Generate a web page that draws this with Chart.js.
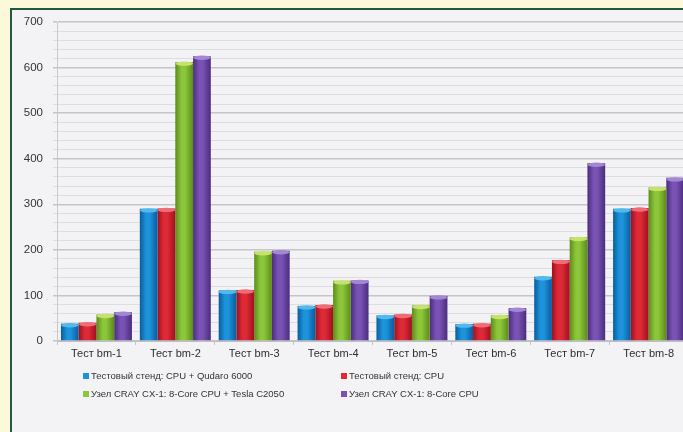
<!DOCTYPE html>
<html>
<head>
<meta charset="utf-8">
<script src="https://cdn.jsdelivr.net/npm/chart.js@4/dist/chart.umd.min.js"></script>
<style>
  html, body { margin: 0; padding: 0; width: 683px; height: 432px; overflow: hidden; background: #fcf8da; }
  #frame { position: absolute; left: 10px; top: 8px; width: 700px; height: 440px;
           border-left: 2px solid #1f5a3d; border-top: 2px solid #1f5a3d; background: #f3f3f6; }
  #chart { position: absolute; left: 0; top: 0; }
  .lg { position: absolute; font: 9.5px "Liberation Sans", Arial, sans-serif; color: #333;
        white-space: nowrap; line-height: 12px; }
  .lg i { display: inline-block; width: 6px; height: 6px; margin-right: 2px; vertical-align: 0px; }
</style>
</head>
<body>
<div id="frame">
  <canvas id="chart" width="690" height="422"></canvas>
  <div id="legend"></div>
</div>
<script>
// Benchmark categories
const categories = ['Тест bm-1', 'Тест bm-2', 'Тест bm-3', 'Тест bm-4',
                    'Тест bm-5', 'Тест bm-6', 'Тест bm-7', 'Тест bm-8'];

// Series names
const seriesNames = [
  'Тестовый стенд: CPU + Qudaro 6000',
  'Тестовый стенд: CPU',
  'Узел CRAY CX-1: 8-Core CPU + Tesla C2050',
  'Узел CRAY CX-1: 8-Core CPU'
];

// Series values
const standQuadro = [38, 290, 111, 77, 56, 37, 141, 290];
const standCpu    = [40, 291, 112, 79, 58, 38, 177, 292];
const crayTesla   = [58, 612, 196, 132, 78, 56, 227, 337];
const crayCpu     = [63, 625, 198, 133, 99, 72, 390, 358];

// Axis range
const yMin = 0, yMax = 700, yStep = 20, yLabelStep = 100;

// Colours: [edge, centre, cap]
const palette = [
  ['#0a5c9c', '#1d93dc', '#52b9ee'],
  ['#a0101e', '#de2a37', '#ef6c76'],
  ['#5c8c1a', '#8cc63a', '#c6e26c'],
  ['#4b2c7e', '#7853b4', '#a386d4']
];

const CAT_PCT = 0.9, BAR_PCT = 1.0;
const seriesData = [standQuadro, standCpu, crayTesla, crayCpu];

function cylinderFill(d) {
  return function (ctx) {
    const chart = ctx.chart;
    const xs = chart.scales && chart.scales.x;
    const [edge, mid] = palette[d];
    if (!xs || !xs.width || ctx.dataIndex == null) return mid;
    const cat = xs.width / categories.length;
    const slot = cat * CAT_PCT / seriesData.length;
    const w = slot * BAR_PCT;
    const cx = xs.getPixelForValue(ctx.dataIndex) - cat * CAT_PCT / 2 + slot * (d + 0.5);
    const g = chart.ctx.createLinearGradient(cx - w / 2, 0, cx + w / 2, 0);
    g.addColorStop(0, edge);
    g.addColorStop(0.35, mid);
    g.addColorStop(0.55, mid);
    g.addColorStop(1, edge);
    return g;
  };
}

// Light elliptical caps on top of each bar
const capsPlugin = {
  id: 'caps',
  afterDatasetsDraw(chart) {
    const c = chart.ctx;
    chart.data.datasets.forEach((ds, d) => {
      const meta = chart.getDatasetMeta(d);
      meta.data.forEach(el => {
        const p = el.getProps(['x', 'y', 'width'], true);
        c.save();
        c.beginPath();
        c.ellipse(p.x, p.y + 1.5, p.width / 2, 2.2, 0, 0, Math.PI * 2);
        c.fillStyle = palette[d][2];
        c.fill();
        c.restore();
      });
    });
  }
};

new Chart(document.getElementById('chart'), {
  type: 'bar',
  data: {
    labels: categories,
    datasets: seriesData.map((vals, d) => ({
      label: seriesNames[d],
      data: vals,
      backgroundColor: cylinderFill(d),
      borderWidth: 0,
      categoryPercentage: CAT_PCT,
      barPercentage: BAR_PCT
    }))
  },
  options: {
    responsive: false,
    animation: false,
    layout: { padding: { top: 12, right: 14, bottom: 69, left: 0 } },
    plugins: { legend: { display: false }, tooltip: { enabled: false } },
    scales: {
      x: {
        grid: { drawOnChartArea: false, color: '#c4c4c8', tickLength: 4 },
        border: { color: '#bdbdc2' },
        ticks: { color: '#2e2e2e', font: { family: 'Liberation Sans', size: 11 }, padding: 2,
                 maxRotation: 0 },
        afterFit(s) { s.height = 22; s.paddingLeft = 0; s.paddingRight = 0; }
      },
      y: {
        min: yMin, max: yMax,
        grid: {
          color: c => (c.tick && c.tick.value % yLabelStep === 0) ? '#c4c4c9' : '#dcdce1',
          lineWidth: c => (c.tick && c.tick.value % yLabelStep === 0) ? 1.5 : 1,
          tickLength: 4
        },
        border: { color: '#c8c8cc' },
        ticks: {
          stepSize: yStep,
          autoSkip: false,
          color: '#333',
          font: { family: 'Liberation Sans', size: 11.5 },
          padding: 10,
          callback: v => (v % yLabelStep === 0 ? v : '')
        },
        afterFit(s) { s.width = 45; s.paddingTop = 0; s.paddingBottom = 0; }
      }
    }
  },
  plugins: [capsPlugin]
});

// Two-column legend
const legendPos = [[71, 360], [329, 360], [71, 378], [329, 378]];
const legend = document.getElementById('legend');
seriesNames.forEach((name, d) => {
  const item = document.createElement('div');
  item.className = 'lg';
  item.style.left = legendPos[d][0] + 'px';
  item.style.top = legendPos[d][1] + 'px';
  const sw = document.createElement('i');
  sw.style.background = palette[d][1];
  item.appendChild(sw);
  item.appendChild(document.createTextNode(name));
  legend.appendChild(item);
});
</script>
</body>
</html>
